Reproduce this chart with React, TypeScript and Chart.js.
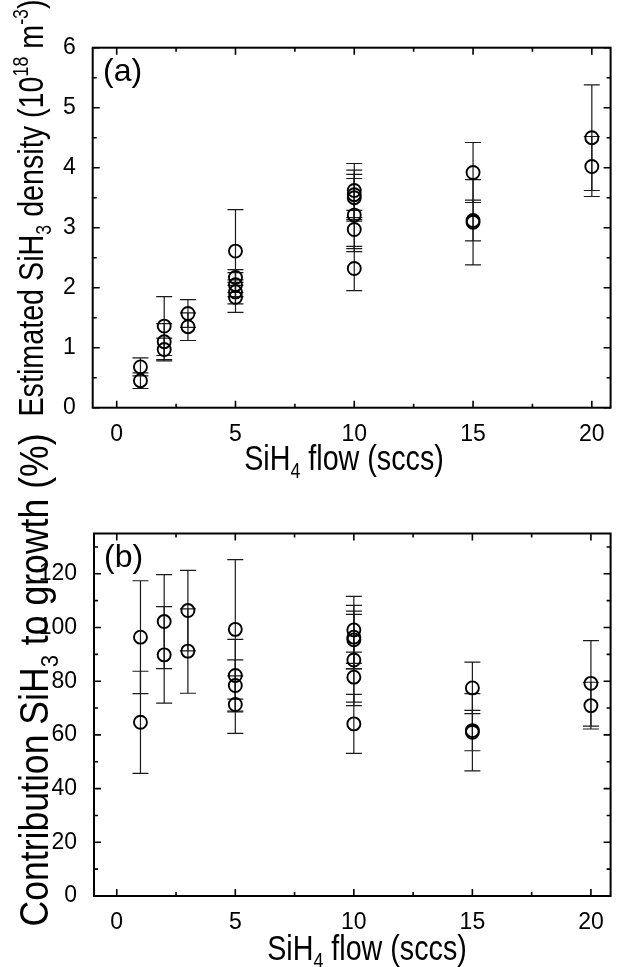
import { useEffect, useRef } from "react";
import { Chart, registerables } from "chart.js";

Chart.register(...registerables);

// ---------- data ----------
// panel (a): estimated SiH3 density (10^18 m^-3)
const flowA = [1, 1, 2, 2, 2, 3, 3, 5, 5, 5, 5, 5, 10, 10, 10, 10, 10, 10, 15, 15, 15, 20, 20];
const densityA = [0.68, 0.45, 1.36, 1.1, 0.97, 1.57, 1.35, 2.61, 2.17, 2.05, 1.93, 1.84, 3.62, 3.55, 3.5, 3.21, 2.97, 2.32, 3.92, 3.12, 3.09, 4.5, 4.02];
const densityErrA = [0.15, 0.13, 0.49, 0.3, 0.19, 0.23, 0.23, 0.69, 0.13, 0.2, 0.2, 0.25, 0.45, 0.41, 0.39, 0.61, 0.32, 0.37, 0.5, 0.34, 0.71, 0.88, 0.5];

// panel (b): contribution of SiH3 to growth (%)
const flowB = [1, 1, 2, 2, 3, 3, 5, 5, 5, 5, 10, 10, 10, 10, 10, 10, 15, 15, 15, 20, 20];
const contribB = [96.4, 64.7, 102.2, 89.8, 106.3, 91.2, 99.3, 82.1, 78.4, 71.3, 99.1, 96.4, 95.4, 87.9, 81.5, 64.1, 77.5, 61.6, 61.0, 79.2, 70.9];
const contribErrB = [21, 19, 17.5, 18, 15, 15.7, 26, 13.5, 9.5, 10.7, 12.5, 11.8, 10.7, 17, 9.3, 11, 9.6, 7.5, 14.4, 15.9, 8.7];

const xTicks = [0, 5, 10, 15, 20];
const yTicksA = [0, 1, 2, 3, 4, 5, 6];
const yTicksB = [0, 20, 40, 60, 80, 100, 120];

const FAMILY = '"Liberation Sans", Arial, Helvetica, sans-serif';

type Seg = { t: string; m?: "sub" | "sup" };

function drawRich(
  ctx: CanvasRenderingContext2D,
  segs: Seg[],
  x: number,
  y: number,
  size: number,
  hscale: number,
  rotate: boolean
) {
  ctx.save();
  ctx.translate(x, y);
  if (rotate) ctx.rotate(-Math.PI / 2);
  ctx.scale(hscale, 1);
  let total = 0;
  const parts = segs.map((s) => {
    const sz = s.m ? size * 0.62 : size;
    ctx.font = `${sz}px ${FAMILY}`;
    const w = ctx.measureText(s.t).width;
    total += w;
    return { s, sz, w };
  });
  let cx = -total / 2;
  ctx.fillStyle = "#000";
  ctx.textBaseline = "alphabetic";
  ctx.textAlign = "left";
  for (const p of parts) {
    ctx.font = `${p.sz}px ${FAMILY}`;
    const dy = p.s.m === "sub" ? size * 0.24 : p.s.m === "sup" ? -size * 0.42 : 0;
    ctx.fillText(p.s.t, cx, dy);
    cx += p.w;
  }
  ctx.restore();
}

type PanelCfg = {
  xs: number[];
  ys: number[];
  errs: number[];
  yTicks: number[];
  yMin: number;
  yMax: number;
  xMin: number;
  xMax: number;
  padTop: number;
  padRight: number;
  axisW: number;
  axisH: number;
  label: string;
  labelPos: [number, number, number];
  xTitle: { x: number; y: number; size: number; h: number };
  yTitleSegs: Seg[];
  yTitle: { x: number; y: number; size: number; h: number };
};

function makeChart(canvas: HTMLCanvasElement, cfg: PanelCfg) {
  const errorBars = {
    id: "errorBars",
    beforeDatasetsDraw(chart: any) {
      const { ctx, scales } = chart;
      const xs = scales.x;
      const ys = scales.y;
      ctx.save();
      ctx.strokeStyle = "#1a1a1a";
      ctx.lineWidth = 1.2;
      for (let i = 0; i < cfg.xs.length; i++) {
        const px = xs.getPixelForValue(cfg.xs[i]);
        const top = ys.getPixelForValue(cfg.ys[i] + cfg.errs[i]);
        const bot = ys.getPixelForValue(cfg.ys[i] - cfg.errs[i]);
        ctx.beginPath();
        ctx.moveTo(px, top);
        ctx.lineTo(px, bot);
        ctx.moveTo(px - 8, top);
        ctx.lineTo(px + 8, top);
        ctx.moveTo(px - 8, bot);
        ctx.lineTo(px + 8, bot);
        ctx.stroke();
      }
      ctx.restore();
    },
  };

  const frame = {
    id: "frame",
    afterDraw(chart: any) {
      const { ctx, chartArea, scales } = chart;
      const { left, right, top, bottom } = chartArea;
      const xs = scales.x;
      const ys = scales.y;
      ctx.save();
      ctx.strokeStyle = "#000";
      ctx.lineWidth = 2;
      ctx.strokeRect(left, top, right - left, bottom - top);
      ctx.lineWidth = 1.6;
      ctx.beginPath();
      const xStep = xTicks[1] - xTicks[0];
      for (let v = xTicks[0]; v <= cfg.xMax; v += xStep / 2) {
        const major = Math.abs(v / xStep - Math.round(v / xStep)) < 1e-6;
        const len = major ? 7 : 4;
        const px = xs.getPixelForValue(v);
        ctx.moveTo(px, bottom);
        ctx.lineTo(px, bottom - len);
        ctx.moveTo(px, top);
        ctx.lineTo(px, top + len);
      }
      const yStep = cfg.yTicks[1] - cfg.yTicks[0];
      for (let v = cfg.yTicks[0]; v <= cfg.yMax; v += yStep / 2) {
        const major = Math.abs(v / yStep - Math.round(v / yStep)) < 1e-6;
        const len = major ? 7 : 4;
        const py = ys.getPixelForValue(v);
        ctx.moveTo(left, py);
        ctx.lineTo(left + len, py);
        ctx.moveTo(right, py);
        ctx.lineTo(right - len, py);
      }
      ctx.stroke();

      // panel label
      ctx.fillStyle = "#000";
      ctx.font = `${cfg.labelPos[2]}px ${FAMILY}`;
      ctx.textAlign = "left";
      ctx.textBaseline = "alphabetic";
      ctx.fillText(cfg.label, cfg.labelPos[0], cfg.labelPos[1]);

      // axis titles
      drawRich(
        ctx,
        [{ t: "SiH" }, { t: "4", m: "sub" }, { t: " flow (sccs)" }],
        cfg.xTitle.x,
        cfg.xTitle.y,
        cfg.xTitle.size,
        cfg.xTitle.h,
        false
      );
      drawRich(ctx, cfg.yTitleSegs, cfg.yTitle.x, cfg.yTitle.y, cfg.yTitle.size, cfg.yTitle.h, true);
      ctx.restore();
    },
  };

  return new Chart(canvas, {
    type: "scatter",
    data: {
      datasets: [
        {
          data: cfg.xs.map((x, i) => ({ x, y: cfg.ys[i] })),
          pointRadius: 6.5,
          pointHoverRadius: 6.5,
          pointBorderWidth: 1.9,
          pointBorderColor: "#000",
          pointBackgroundColor: "rgba(0,0,0,0)",
          showLine: false,
        },
      ],
    },
    options: {
      animation: false,
      responsive: false,
      events: [],
      layout: { padding: { top: cfg.padTop, right: cfg.padRight, left: 0, bottom: 0 } },
      plugins: { legend: { display: false }, tooltip: { enabled: false } },
      scales: {
        x: {
          type: "linear",
          min: cfg.xMin,
          max: cfg.xMax,
          grid: { display: false },
          border: { display: false },
          afterBuildTicks: (s: any) => {
            s.ticks = xTicks.map((v) => ({ value: v }));
          },
          afterFit: (s: any) => {
            s.height = cfg.axisH;
          },
          ticks: {
            font: { size: 23, family: FAMILY },
            color: "#000",
            padding: 5,
            maxRotation: 0,
            autoSkip: false,
          },
        },
        y: {
          type: "linear",
          min: cfg.yMin,
          max: cfg.yMax,
          grid: { display: false },
          border: { display: false },
          afterBuildTicks: (s: any) => {
            s.ticks = cfg.yTicks.map((v) => ({ value: v }));
          },
          afterFit: (s: any) => {
            s.width = cfg.axisW;
          },
          ticks: {
            font: { size: 23, family: FAMILY },
            color: "#000",
            padding: 9,
            autoSkip: false,
          },
        },
      },
    },
    plugins: [errorBars, frame],
  } as any);
}

const TOP_B = 400;

export default function App() {
  const refA = useRef<HTMLCanvasElement>(null);
  const refB = useRef<HTMLCanvasElement>(null);

  useEffect(() => {
    const a = makeChart(refA.current!, {
      xs: flowA,
      ys: densityA,
      errs: densityErrA,
      yTicks: yTicksA,
      yMin: 0,
      yMax: 6,
      xMin: -1.01,
      xMax: 20.79,
      padTop: 47.7,
      padRight: 3,
      axisW: 92.7,
      axisH: 82.3,
      label: "(a)",
      labelPos: [103, 81, 32],
      xTitle: { x: 344, y: 470, size: 35, h: 0.82 },
      yTitleSegs: [
        { t: "Estimated SiH" },
        { t: "3", m: "sub" },
        { t: " density (10" },
        { t: "18", m: "sup" },
        { t: " m" },
        { t: "-3", m: "sup" },
        { t: ")" },
      ],
      yTitle: { x: 43, y: 208, size: 35, h: 0.82 },
    });
    const b = makeChart(refB.current!, {
      xs: flowB,
      ys: contribB,
      errs: contribErrB,
      yTicks: yTicksB,
      yMin: 0,
      yMax: 135,
      xMin: -0.96,
      xMax: 20.83,
      padTop: 533.5 - TOP_B,
      padRight: 2,
      axisW: 94,
      axisH: 71,
      label: "(b)",
      labelPos: [104, 567 - TOP_B, 32],
      xTitle: { x: 367, y: 960 - TOP_B, size: 35, h: 0.82 },
      yTitleSegs: [
        { t: "Contribution SiH" },
        { t: "3", m: "sub" },
        { t: " to growth (%)" },
      ],
      yTitle: { x: 48, y: 680 - TOP_B, size: 40, h: 0.89 },
    });
    return () => {
      a.destroy();
      b.destroy();
    };
  }, []);

  return (
    <div style={{ position: "absolute", left: 0, top: 0, width: 619, height: 967, background: "#fff" }}>
      <canvas
        ref={refA}
        width={619}
        height={490}
        style={{ position: "absolute", left: 0, top: 0, width: 619, height: 490, display: "block" }}
      />
      <canvas
        ref={refB}
        width={619}
        height={967 - TOP_B}
        style={{ position: "absolute", left: 0, top: TOP_B, width: 619, height: 967 - TOP_B, display: "block" }}
      />
    </div>
  );
}
